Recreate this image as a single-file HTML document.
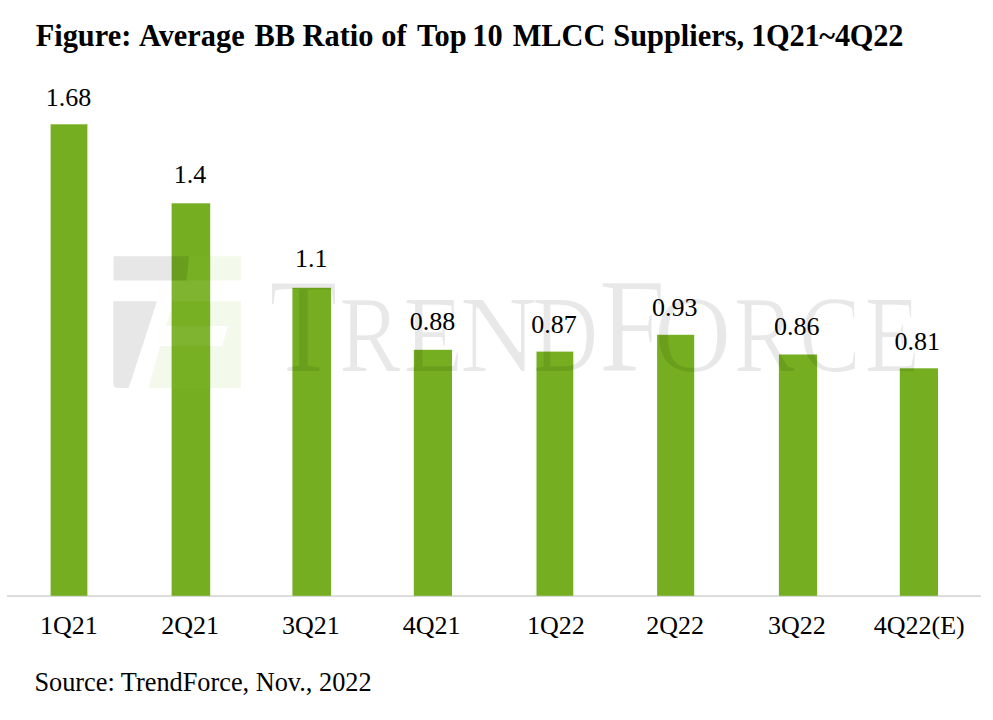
<!DOCTYPE html>
<html><head><meta charset="utf-8"><title>Average BB Ratio of Top 10 MLCC Suppliers</title>
<style>
html,body{margin:0;padding:0;background:#fff;}
body{width:993px;height:720px;overflow:hidden;}
svg{display:block;}
text{font-family:"Liberation Serif","Times New Roman",serif;}
</style></head><body>
<svg width="993" height="720" viewBox="0 0 993 720">
<rect x="0" y="0" width="993" height="720" fill="#fff"/>
<text font-weight="bold" font-size="31" fill="#000" y="45.8" transform="scale(0.98,1)"><tspan x="36.4">Figure:</tspan><tspan x="141.8">Average</tspan><tspan x="259.8">BB</tspan><tspan x="308.8">Ratio</tspan><tspan x="389.0">of</tspan><tspan x="425.5">Top</tspan><tspan x="482.0">10</tspan><tspan x="523.1">MLCC</tspan><tspan x="625.8">Suppliers,</tspan><tspan x="766.5" letter-spacing="-0.25">1Q21~4Q22</tspan></text>
<rect x="7" y="595.2" width="974" height="1.8" fill="#d9d9d9"/>
<g fill="#75ae20"><rect x="50.6" y="124.3" width="36.8" height="471.5"/><rect x="171.6" y="203.3" width="38.6" height="392.5"/><rect x="292.4" y="287.8" width="38.6" height="308.0"/><rect x="413.8" y="349.8" width="38.2" height="246.0"/><rect x="536.5" y="351.6" width="36.8" height="244.2"/><rect x="657.1" y="334.8" width="37.1" height="261.0"/><rect x="778.9" y="354.5" width="38.2" height="241.3"/><rect x="899.8" y="368.3" width="38.2" height="227.5"/></g>
<g fill="#fff" fill-opacity="0.08"><rect x="113" y="280.4" width="128" height="20.9"/><path d="M165.9,326 L228,326 L222.2,346 L160.1,346 Z"/></g>
<g fill="#000" fill-opacity="0.095">
<path d="M113.5,256.3 L189,256.3 L186.5,280.4 L113.5,280.4 Z"/>
<path d="M113.3,301.3 L157,301.3 L128.75,388 L117.5,388 Q113.3,388 113.3,383.5 Z"/>
</g>
<defs><filter id="thin" x="0" y="0" width="1" height="1"><feMorphology operator="erode" radius="0.8 0.4"/></filter></defs>
<g fill="#000" opacity="0.085" filter="url(#thin)">
<text transform="translate(269.0,370.5) scale(0.85,1)" font-size="132.6">T</text>
<text transform="translate(338.8,370.5) scale(0.86,1)" font-size="108.4">R</text>
<text transform="translate(402.7,370.5) scale(0.925,1)" font-size="108.4">E</text>
<text transform="translate(459.6,370.5) scale(0.99,1)" font-size="108.4">N</text>
<text transform="translate(532.3,370.5) scale(0.85,1)" font-size="108.4">D</text>
<text transform="translate(598.2,370.5) scale(0.92,1)" font-size="132.6">F</text>
<text transform="translate(653.6,370.5) scale(1.0,1)" font-size="108.4">O</text>
<text transform="translate(733.3,370.5) scale(0.86,1)" font-size="108.4">R</text>
<text transform="translate(798.7,370.5) scale(0.865,1)" font-size="108.4">C</text>
<text transform="translate(864.3,370.5) scale(0.85,1)" font-size="108.4">E</text>
</g>
<g fill="#8dc63f" fill-opacity="0.1">
<path d="M189,256.3 L241,256.3 L241,280.4 L186.5,280.4 Z"/>
<path d="M174,301.3 L241,301.3 L241,388 L148.5,388 L160.1,346 L222.2,346 L228,326 L165.9,326 Z"/>
</g>
<g font-size="26" fill="#000" text-anchor="middle"><text x="68.60" y="105.8">1.68</text><text x="190.10" y="183.3">1.4</text><text x="311.30" y="267.2">1.1</text><text x="432.60" y="329.5">0.88</text><text x="554.05" y="332.8">0.87</text><text x="674.65" y="316.0">0.93</text><text x="796.75" y="334.8">0.86</text><text x="917.30" y="349.6">0.81</text></g>
<g font-size="26" fill="#000" text-anchor="middle"><text x="68.8" y="633.6">1Q21</text><text x="190.2" y="633.6">2Q21</text><text x="310.9" y="633.6">3Q21</text><text x="431.7" y="633.6">4Q21</text><text x="555.9" y="633.6">1Q22</text><text x="675.1" y="633.6">2Q22</text><text x="796.9" y="633.6">3Q22</text><text x="919.3" y="633.6">4Q22(E)</text></g>
<text x="34.4" y="690.6" font-size="26.3" fill="#000">Source: TrendForce, Nov., 2022</text>
</svg></body></html>
